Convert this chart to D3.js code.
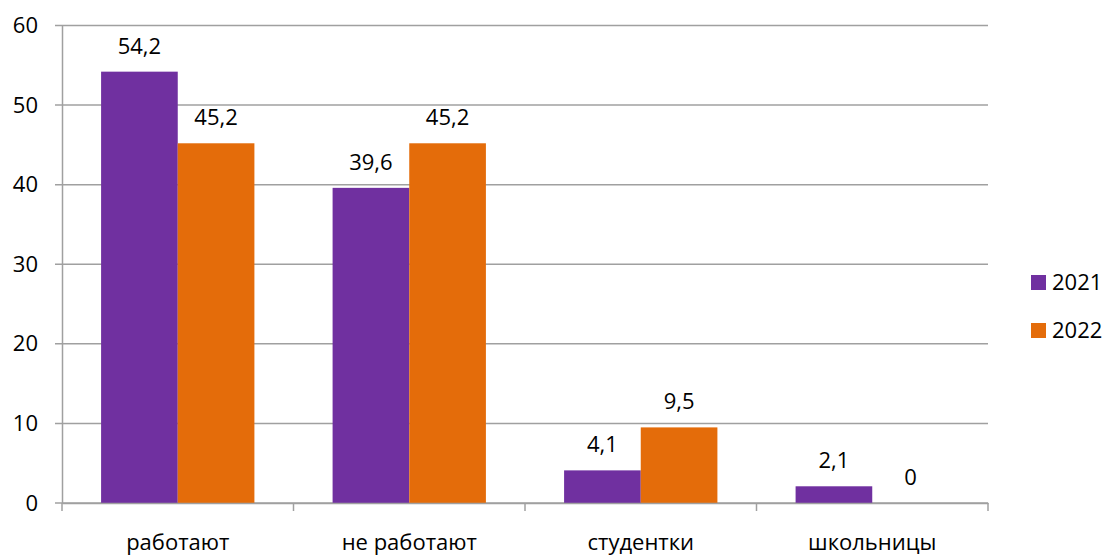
<!DOCTYPE html>
<html><head><meta charset="utf-8">
<script src="https://cdn.jsdelivr.net/npm/d3@7/dist/d3.min.js"></script>
<style>body{margin:0;background:#fff}svg{display:block}text{font-family:"Open Sans",sans-serif;fill:#000}</style>
</head><body>
<svg id="c" width="1107" height="555"></svg>
<script>
const categories = ["работают", "не работают", "студентки", "школьницы"];
const seriesNames = ["2021", "2022"];
const values2021 = [54.2, 39.6, 4.1, 2.1];
const values2022 = [45.2, 45.2, 9.5, 0];
const valueLabels2021 = ["54,2", "39,6", "4,1", "2,1"];
const valueLabels2022 = ["45,2", "45,2", "9,5", "0"];
const yTicks = [0, 10, 20, 30, 40, 50, 60];
const colors = ["#7030A0", "#E46C0A"];

(function () {
const svg = d3.select("#c");
const mLeft = 62, mRight = 988, mTop = 25.5, mBottom = 503;
const x = d3.scaleBand().domain(categories).range([mLeft, mRight]).paddingInner(0).paddingOuter(0);
const y = d3.scaleLinear().domain([0, 60]).range([mBottom, mTop]);
const x1 = d3.scaleBand().domain(seriesNames).range([0, x.bandwidth()]).paddingOuter(0.51).paddingInner(0);

// gridlines
svg.append("g").selectAll("line").data(yTicks).join("line")
  .attr("x1", mLeft - 7).attr("x2", mRight)
  .attr("y1", d => y(d)).attr("y2", d => y(d))
  .attr("stroke", "#a0a0a0").attr("stroke-width", 1.5);

// y axis
const yAxis = d3.axisLeft(y).tickValues(yTicks).tickSize(0).tickPadding(24);
const ga = svg.append("g").attr("transform", `translate(${mLeft},0)`).call(yAxis);
ga.select(".domain").attr("stroke", "#a0a0a0").attr("stroke-width", 1.5);
ga.selectAll("text").style("font-size", "22px").attr("font-family", "Open Sans").attr("fill", "#000");

// bars
const series = [values2021, values2022];
const labels = [valueLabels2021, valueLabels2022];
series.forEach((vals, si) => {
  const g = svg.append("g");
  g.selectAll("rect").data(vals).join("rect")
    .attr("x", (d, i) => x(categories[i]) + x1(seriesNames[si]))
    .attr("width", x1.bandwidth())
    .attr("y", d => y(d))
    .attr("height", d => y(0) - y(d))
    .attr("fill", colors[si]);
  g.selectAll("text").data(vals).join("text")
    .attr("x", (d, i) => x(categories[i]) + x1(seriesNames[si]) + x1.bandwidth() / 2)
    .attr("y", d => y(d) - 18)
    .attr("text-anchor", "middle")
    .style("font-size", "22px")
    .text((d, i) => labels[si][i]);
});

// x axis
const xAxis = d3.axisBottom(x).tickSize(0).tickPadding(31);
const gx = svg.append("g").attr("transform", `translate(0,${mBottom})`).call(xAxis);
gx.select(".domain").attr("stroke", "#a0a0a0").attr("stroke-width", 1.5);
gx.selectAll("text").style("font-size", "22px").attr("font-family", "Open Sans").attr("fill", "#000");
const bounds = categories.map(c => x(c)).concat([mRight]);
gx.selectAll(".bt").data(bounds).join("line").attr("class", "bt")
  .attr("x1", d => d).attr("x2", d => d).attr("y1", 0).attr("y2", 8)
  .attr("stroke", "#a0a0a0").attr("stroke-width", 1.5);

// legend
const lg = svg.append("g").attr("transform", "translate(1031,275)");
seriesNames.forEach((s, i) => {
  lg.append("rect").attr("x", 0).attr("y", i * 48).attr("width", 15).attr("height", 15).attr("fill", colors[i]);
  lg.append("text").attr("x", 21).attr("y", i * 48 + 15).style("font-size", "22px").text(s);
});
})();
</script>
</body></html>
